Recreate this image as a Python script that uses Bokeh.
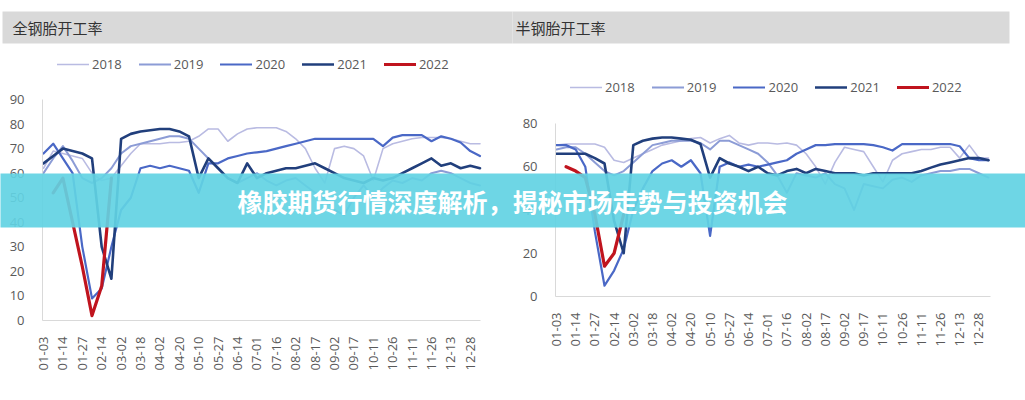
import math
import numpy as np
from bokeh.plotting import figure
from bokeh.models import ColumnDataSource, Range1d, LinearAxis, FixedTicker, Legend, LegendItem
from bokeh.core.properties import value
from bokeh.embed import file_html
from bokeh.resources import INLINE

# ---------------- data ----------------
dates = ["01-03", "01-14", "01-27", "02-14", "03-02", "03-18", "04-02", "04-20",
         "05-10", "05-27", "06-14", "07-01", "07-16", "08-02", "08-17", "09-02",
         "09-17", "10-11", "10-26", "11-11", "11-26", "12-13", "12-28"]
years = ["2018", "2019", "2020", "2021", "2022"]

title_left = "全钢胎开工率"
title_right = "半钢胎开工率"
banner_text = "橡胶期货行情深度解析，揭秘市场走势与投资机会"

left_y_ticks = [0, 10, 20, 30, 40, 50, 60, 70, 80, 90]
right_y_ticks = [0, 20, 40, 60, 80]

# 全钢胎开工率 (%), weekly
all_2018 = [62, 69, 68, 67, 66, 60, 57, 58, 63, 68, 72, 72, 72, 72.5, 72.5, 73, 75, 78, 78, 73,
            76, 78, 78.5, 78.5, 78.5, 77, 74, 70, 62, 56, 70, 71, 70, 67, 57, 70, 72, 73, 74, 74.5,
            74.5, 74.5, 74, 73, 72, 72]
all_2019 = [60, 66, 71, 65, 58, 56, 58, 62, 68, 71, 72, 73, 74, 75, 75, 74, 70, 66, 62, 58,
            56, 58, 60, 57, 55, 57, 58, 55, 52, 50, 45, 43, 50, 55, 50, 54, 57, 56, 58, 57,
            60, 61, 60, 58, 56, 55]
all_2020 = [68, 72, 66, 60, 30, 9, 13, 30, 45, 50, 62, 63, 62, 63, 62, 61, 52, 64, 64, 66,
            67, 68, 68.5, 69, 70, 71, 72, 73, 74, 74, 74, 74, 74, 74, 74, 71, 74.5, 75.5, 75.5, 75.5,
            73, 75, 74, 72.5, 69, 67]
all_2021 = [64, 67, 70, 69, 68, 66, 30, 17, 74, 76, 77, 77.5, 78, 78, 77, 75, 58, 66, 62, 58,
            56, 64, 58, 60, 61, 62, 62, 63, 64, 62, 60, 58, 57, 56, 58, 57, 58, 60, 62, 64,
            66, 63, 64, 62, 63, 62]
all_2022 = [None, 52, 58, 40, 22, 2, 14, 58]

# 半钢胎开工率 (%), weekly
semi_2018 = [70, 70.5, 70.5, 70.5, 70.5, 69, 63, 62, 64, 66, 68, 70, 71, 72, 73, 73.5, 71, 73, 74.5, 71,
             70, 71, 71, 70.5, 71, 70, 66, 60, 52, 62, 69, 68, 67, 60, 53, 63, 66, 67, 68, 68,
             69, 69, 64, 70, 64, 64]
semi_2019 = [68, 69, 69, 66, 62, 58, 56, 58, 62, 66, 70, 71, 72, 72, 72, 71, 68, 72, 72, 70,
             68, 66, 62, 56, 48, 57, 56, 55, 57, 52, 50, 40, 52, 51, 50, 54, 55, 53, 56, 57,
             58, 58, 59, 59, 57, 55]
semi_2020 = [70, 70, 68, 60, 30, 5, 12, 22, 40, 50, 58, 61.5, 63, 60, 63, 57, 28, 60, 62, 60,
             61, 60, 61, 62, 63, 66, 68, 70, 70, 70.5, 70.5, 70.5, 70.5, 70, 69, 67.5, 70.5, 70.5, 70.5, 70.5,
             70.5, 70.5, 69.5, 64, 63, 63]
semi_2021 = [66, 66, 66, 66, 64, 61.5, 35, 20, 70, 72, 73, 73.5, 73.5, 73, 72.5, 70.5, 55, 64, 61.5, 60,
             58, 60, 57, 56, 58, 59, 57, 59, 58, 57, 57, 57, 56, 57, 57, 57, 57, 57, 58, 59.6,
             61, 62, 63, 64, 64, 63]
semi_2022 = [None, 60, 58, 55, 38, 14, 20, 38]

# ---------------- helpers ----------------
N = len(all_2018)
weeks = list(range(N))


def pad(vals):
    out = [np.nan if v is None else v for v in vals]
    return out + [np.nan] * (N - len(out))


src_left = ColumnDataSource(dict(x=weeks, y2018=all_2018, y2019=all_2019, y2020=all_2020,
                                 y2021=all_2021, y2022=pad(all_2022)))
src_right = ColumnDataSource(dict(x=weeks, y2018=semi_2018, y2019=semi_2019, y2020=semi_2020,
                                  y2021=semi_2021, y2022=pad(semi_2022)))

W, H = 1025, 400
COLORS = ["#b9bbe2", "#8c9cd6", "#4a68c6", "#213f7c", "#c0141e"]
WIDTHS = [1.6, 2.0, 2.2, 2.6, 3.2]
GRAY = "#595959"
FONT = "Open Sans"
CJK = "Noto Sans CJK SC"

p = figure(width=W, height=H, x_range=Range1d(0, W), y_range=Range1d(H, 0),
           x_axis_type=None, y_axis_type=None, toolbar_location=None,
           output_backend="svg", min_border=0, outline_line_color=None,
           background_fill_color="white", border_fill_color="white")


def ranges(x0, dx, y0, dy):
    xr = Range1d(-x0 / dx, (W - x0) / dx)
    yr = Range1d(-(H - y0) / dy, y0 / dy)
    return xr, yr


lx_r, ly_r = ranges(43, 9.7, 320, 221 / 90)
rx_r, ry_r = ranges(556, 9.6, 296, 173 / 80)
p.extra_x_ranges = {"Lx": lx_r, "Rx": rx_r}
p.extra_y_ranges = {"Ly": ly_r, "Ry": ry_r}

# header bands + titles
p.quad(left=[2, 512], right=[512, 1009], top=[11, 11], bottom=[43, 43],
       fill_color="#d9d9d9", line_color=None, level="underlay")
p.text(x=[12, 515], y=[27, 27], text=[title_left, title_right], text_baseline="middle",
       text_font=value(CJK), text_font_size="15px", text_color="#333333")

ticks_x = list(range(0, 2 * len(dates), 2))
overrides = {t: d for t, d in zip(ticks_x, dates)}


def build_chart(src, xr_name, yr_name, yticks, ymax, xend, legend_loc):
    items = []
    for yr, col, lw in zip(years, COLORS, WIDTHS):
        r = p.line("x", "y" + yr, source=src, x_range_name=xr_name, y_range_name=yr_name,
                   line_color=col, line_width=lw, line_join="round", line_cap="round")
        items.append(LegendItem(label=value(yr), renderers=[r]))
    leg = Legend(items=items, orientation="horizontal", location=legend_loc,
                 glyph_width=32, glyph_height=14, label_height=14, label_standoff=3,
                 spacing=17, padding=0, margin=0, border_line_color=None,
                 background_fill_alpha=0, label_text_font=FONT,
                 label_text_font_size="13px", label_text_color=GRAY)
    p.add_layout(leg)

    yax = LinearAxis(x_range_name=xr_name, y_range_name=yr_name, fixed_location=-0.1,
                     bounds=(0, ymax), ticker=FixedTicker(ticks=yticks))
    yax.axis_line_color = "#d9d9d9"
    yax.major_tick_line_color = None
    yax.minor_tick_line_color = None
    yax.major_label_standoff = 12
    yax.major_label_text_font = FONT
    yax.major_label_text_font_size = "13px"
    yax.major_label_text_color = GRAY
    p.add_layout(yax, "left")

    xax = LinearAxis(x_range_name=xr_name, y_range_name=yr_name, fixed_location=0,
                     bounds=(-0.1, xend), ticker=FixedTicker(ticks=ticks_x),
                     major_label_overrides=overrides, major_label_orientation=math.pi / 2)
    xax.axis_line_color = "#d9d9d9"
    xax.major_tick_line_color = None
    xax.minor_tick_line_color = None
    xax.major_label_standoff = 10
    xax.major_label_text_font = FONT
    xax.major_label_text_font_size = "13px"
    xax.major_label_text_color = GRAY
    p.add_layout(xax, "below")


build_chart(src_left, "Lx", "Ly", left_y_ticks, 90, 45.05, (57, H - 73))
build_chart(src_right, "Rx", "Ry", right_y_ticks, 80, 45.2, (570, H - 96))

# banner overlay
p.quad(left=[0], right=[W], top=[173], bottom=[227], fill_color="#62d3e3", fill_alpha=0.92,
       line_color=None, level="overlay")
p.text(x=[512], y=[200], text=[banner_text], text_align="center", text_baseline="middle",
       text_font=value(CJK), text_font_style="bold", text_font_size="25px",
       text_color="white", level="overlay")

open("out.html", "w").write(file_html(p, INLINE))
